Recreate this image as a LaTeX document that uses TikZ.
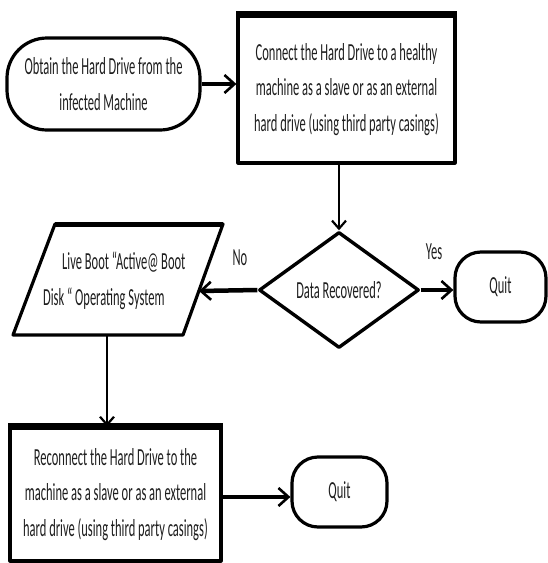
\documentclass[tikz,border=0pt]{standalone}
\usepackage{fontspec}
\setmainfont[FakeStretch=0.51]{Carlito}
\usetikzlibrary{arrows.meta,shapes.geometric}
\definecolor{ink}{HTML}{1E1E1E}
\begin{document}
\begin{tikzpicture}[x=1pt,y=-1pt,
  txt/.style={font=\fontsize{24.5}{35.5}\selectfont, align=center, inner sep=0pt, text=ink},
  shapeline/.style={draw=black, line width=3.2pt, line join=round},
  terminal/.style={txt, shapeline, rounded corners=30pt},
  procbox/.style={txt, shapeline},
  thickarrow/.style={line width=4.5pt, -{Straight Barb[length=10pt,width=18pt,line width=2.6pt]}},
  thinarrow/.style={line width=2.4pt, -{Straight Barb[length=8pt,width=14pt,line width=2.2pt]}},
  lbl/.style={font=\fontsize{24.5}{28}\selectfont, inner sep=0pt, text=ink}]
\useasboundingbox (0,0) rectangle (547,563);

% start terminal
\node[terminal, rounded corners=40pt, minimum width=193pt, minimum height=92pt] (obtain) at (103.5,84)
  {Obtain the Hard Drive from the\\infected Machine};

% connect box
\node[procbox, minimum width=217pt, minimum height=147pt] (connect) at (346.5,89.5)
  {Connect the Hard Drive to a healthy\\machine as a slave or as an external\\hard drive (using third party casings)};
\draw[line width=6pt] (connect.north west) -- (connect.north east);

% decision
\node[txt, shape=diamond, draw=black, line width=3.4pt, line join=round,
      minimum width=160pt, minimum height=116pt, aspect=1.38] (dia) at (339,290) {Data Recovered?};

% parallelogram
\coordinate (pTL) at (55,224);
\coordinate (pTR) at (223,224);
\coordinate (pBR) at (183,335);
\coordinate (pBL) at (13,335);
\draw[shapeline] (pTL) -- (pTR) -- (pBR) -- (pBL) -- cycle;
\draw[line width=5pt] (pTL) -- (pTR);
\node[txt, align=left, anchor=west] (para) at (43,281)
  {\hspace*{19pt}Live Boot “Active@ Boot\\Disk “ Operating System};
\coordinate (pR) at (199,291);
\coordinate (pB) at (107,335);

% quit 1
\node[terminal, rounded corners=26pt, minimum width=91pt, minimum height=70pt] (quitA) at (500.5,287) {Quit};

% reconnect box
\node[procbox, minimum width=211pt, minimum height=133pt] (recon) at (115.5,494.5)
  {Reconnect the Hard Drive to the\\machine as a slave or as an external\\hard drive (using third party casings)};
\draw[line width=6pt] (recon.north west) -- (recon.north east);

% quit 2
\node[terminal, rounded corners=26pt, minimum width=95pt, minimum height=70pt] (quitB) at (339.5,492) {Quit};

% connectors
\draw[thickarrow] (obtain.east) -- (connect.west |- obtain.east);
\draw[thinarrow] (dia.north |- connect.south) -- (dia.north);
\draw[thickarrow] (dia.west) -- (pR);
\draw[thickarrow] (dia.east) -- (quitA.west |- dia.east);
\draw[thinarrow] (pB) -- (pB |- recon.north);
\draw[thickarrow] (recon.east |- 0,497) -- (quitB.west |- 0,497);

% labels
\node[lbl] (no) at (240,258) {No};
\node[lbl] (yes) at (434,252) {Yes};
\end{tikzpicture}
\end{document}
